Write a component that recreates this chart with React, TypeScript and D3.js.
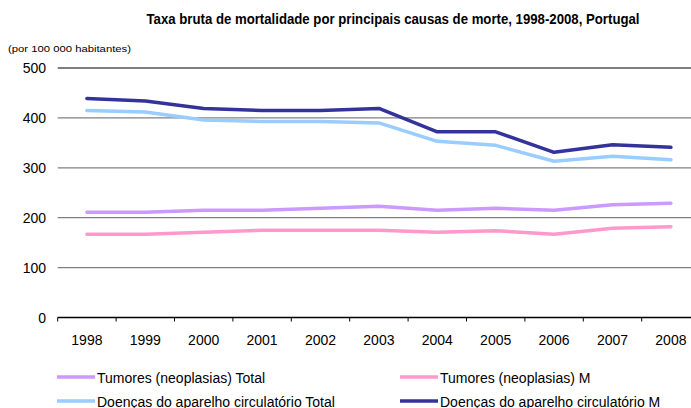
import React, { useEffect, useRef } from 'react';
import * as d3 from 'd3';

const years = ['1998', '1999', '2000', '2001', '2002', '2003', '2004', '2005', '2006', '2007', '2008'];
const tumoresTotal = [211, 211, 215, 215, 219, 223, 215, 219, 215, 226, 229];
const tumoresM = [167, 167, 171, 175, 175, 175, 171, 174, 167, 179, 182];
const circTotal = [415, 412, 396, 393, 393, 390, 353, 345, 313, 323, 316];
const circM = [439, 434, 419, 415, 415, 419, 372, 372, 331, 346, 341];
const yTicks = [0, 100, 200, 300, 400, 500];

const series = [
  { name: 'Tumores (neoplasias) Total', values: tumoresTotal, color: '#cc99ff' },
  { name: 'Tumores (neoplasias) M', values: tumoresM, color: '#ff99cc' },
  { name: 'Doenças do aparelho circulatório Total', values: circTotal, color: '#99ccff' },
  { name: 'Doenças do aparelho circulatório M', values: circM, color: '#333399' },
];

export default function App() {
  const svgRef = useRef<SVGSVGElement>(null);

  useEffect(() => {
    if (!svgRef.current) return;
    const svg = d3.select(svgRef.current);
    svg.selectAll('*').remove();

    const font = '"Liberation Sans", Arial, sans-serif';
    const left = 57.7;
    const step = 58.4;

    const x = d3.scaleBand()
      .domain(years)
      .range([left, left + step * years.length]);

    const y = d3.scaleLinear()
      .domain([0, 500])
      .range([317.5, 68]);

    // titulo
    svg.append('text')
      .attr('x', 393)
      .attr('y', 24)
      .attr('text-anchor', 'middle')
      .attr('font-family', font)
      .attr('font-weight', 'bold')
      .attr('font-size', 14)
      .attr('textLength', 493)
      .attr('lengthAdjust', 'spacingAndGlyphs')
      .text('Taxa bruta de mortalidade por principais causas de morte, 1998-2008, Portugal');

    svg.append('text')
      .attr('x', 8)
      .attr('y', 52)
      .attr('font-family', font)
      .attr('font-size', 9)
      .attr('textLength', 123)
      .attr('lengthAdjust', 'spacingAndGlyphs')
      .text('(por 100 000 habitantes)');

    // grelha
    yTicks.forEach(t => {
      svg.append('line')
        .attr('x1', left)
        .attr('x2', 691)
        .attr('y1', y(t))
        .attr('y2', y(t))
        .attr('stroke', t === 0 || t === 500 ? '#000' : '#808080')
        .attr('stroke-width', t === 0 ? 1.5 : 1.2);
      svg.append('text')
        .attr('x', 46)
        .attr('y', y(t) + 5)
        .attr('text-anchor', 'end')
        .attr('font-family', font)
        .attr('font-size', 14)
        .text(t);
    });

    // eixo x
    years.forEach((yr, i) => {
      const xt = left + i * step;
      svg.append('line')
        .attr('x1', xt).attr('x2', xt)
        .attr('y1', y(0)).attr('y2', y(0) + 4)
        .attr('stroke', '#000');
      svg.append('text')
        .attr('x', (x(yr) ?? 0) + x.bandwidth() / 2)
        .attr('y', 345)
        .attr('text-anchor', 'middle')
        .attr('font-family', font)
        .attr('font-size', 14)
        .text(yr);
    });

    const line = d3.line<number>()
      .x((_, i) => (x(years[i]) ?? 0) + x.bandwidth() / 2)
      .y(d => y(d));

    series.forEach(s => {
      svg.append('path')
        .datum(s.values)
        .attr('d', line)
        .attr('fill', 'none')
        .attr('stroke', s.color)
        .attr('stroke-width', 3.5)
        .attr('stroke-linejoin', 'round')
        .attr('stroke-linecap', 'round');
    });

    // legenda
    series.forEach((s, i) => {
      const lx = i % 2 === 0 ? 57 : 400;
      const ly = i < 2 ? 377 : 401;
      svg.append('line')
        .attr('x1', lx).attr('x2', lx + 38)
        .attr('y1', ly).attr('y2', ly)
        .attr('stroke', s.color)
        .attr('stroke-width', 3.5);
      svg.append('text')
        .attr('x', lx + 40)
        .attr('y', ly + 5.5)
        .attr('font-family', font)
        .attr('font-size', 14)
        .text(s.name);
    });
  }, []);

  return (
    <svg
      ref={svgRef}
      width={691}
      height={408}
      style={{ position: 'absolute', left: 0, top: 0, background: '#fff' }}
    />
  );
}
